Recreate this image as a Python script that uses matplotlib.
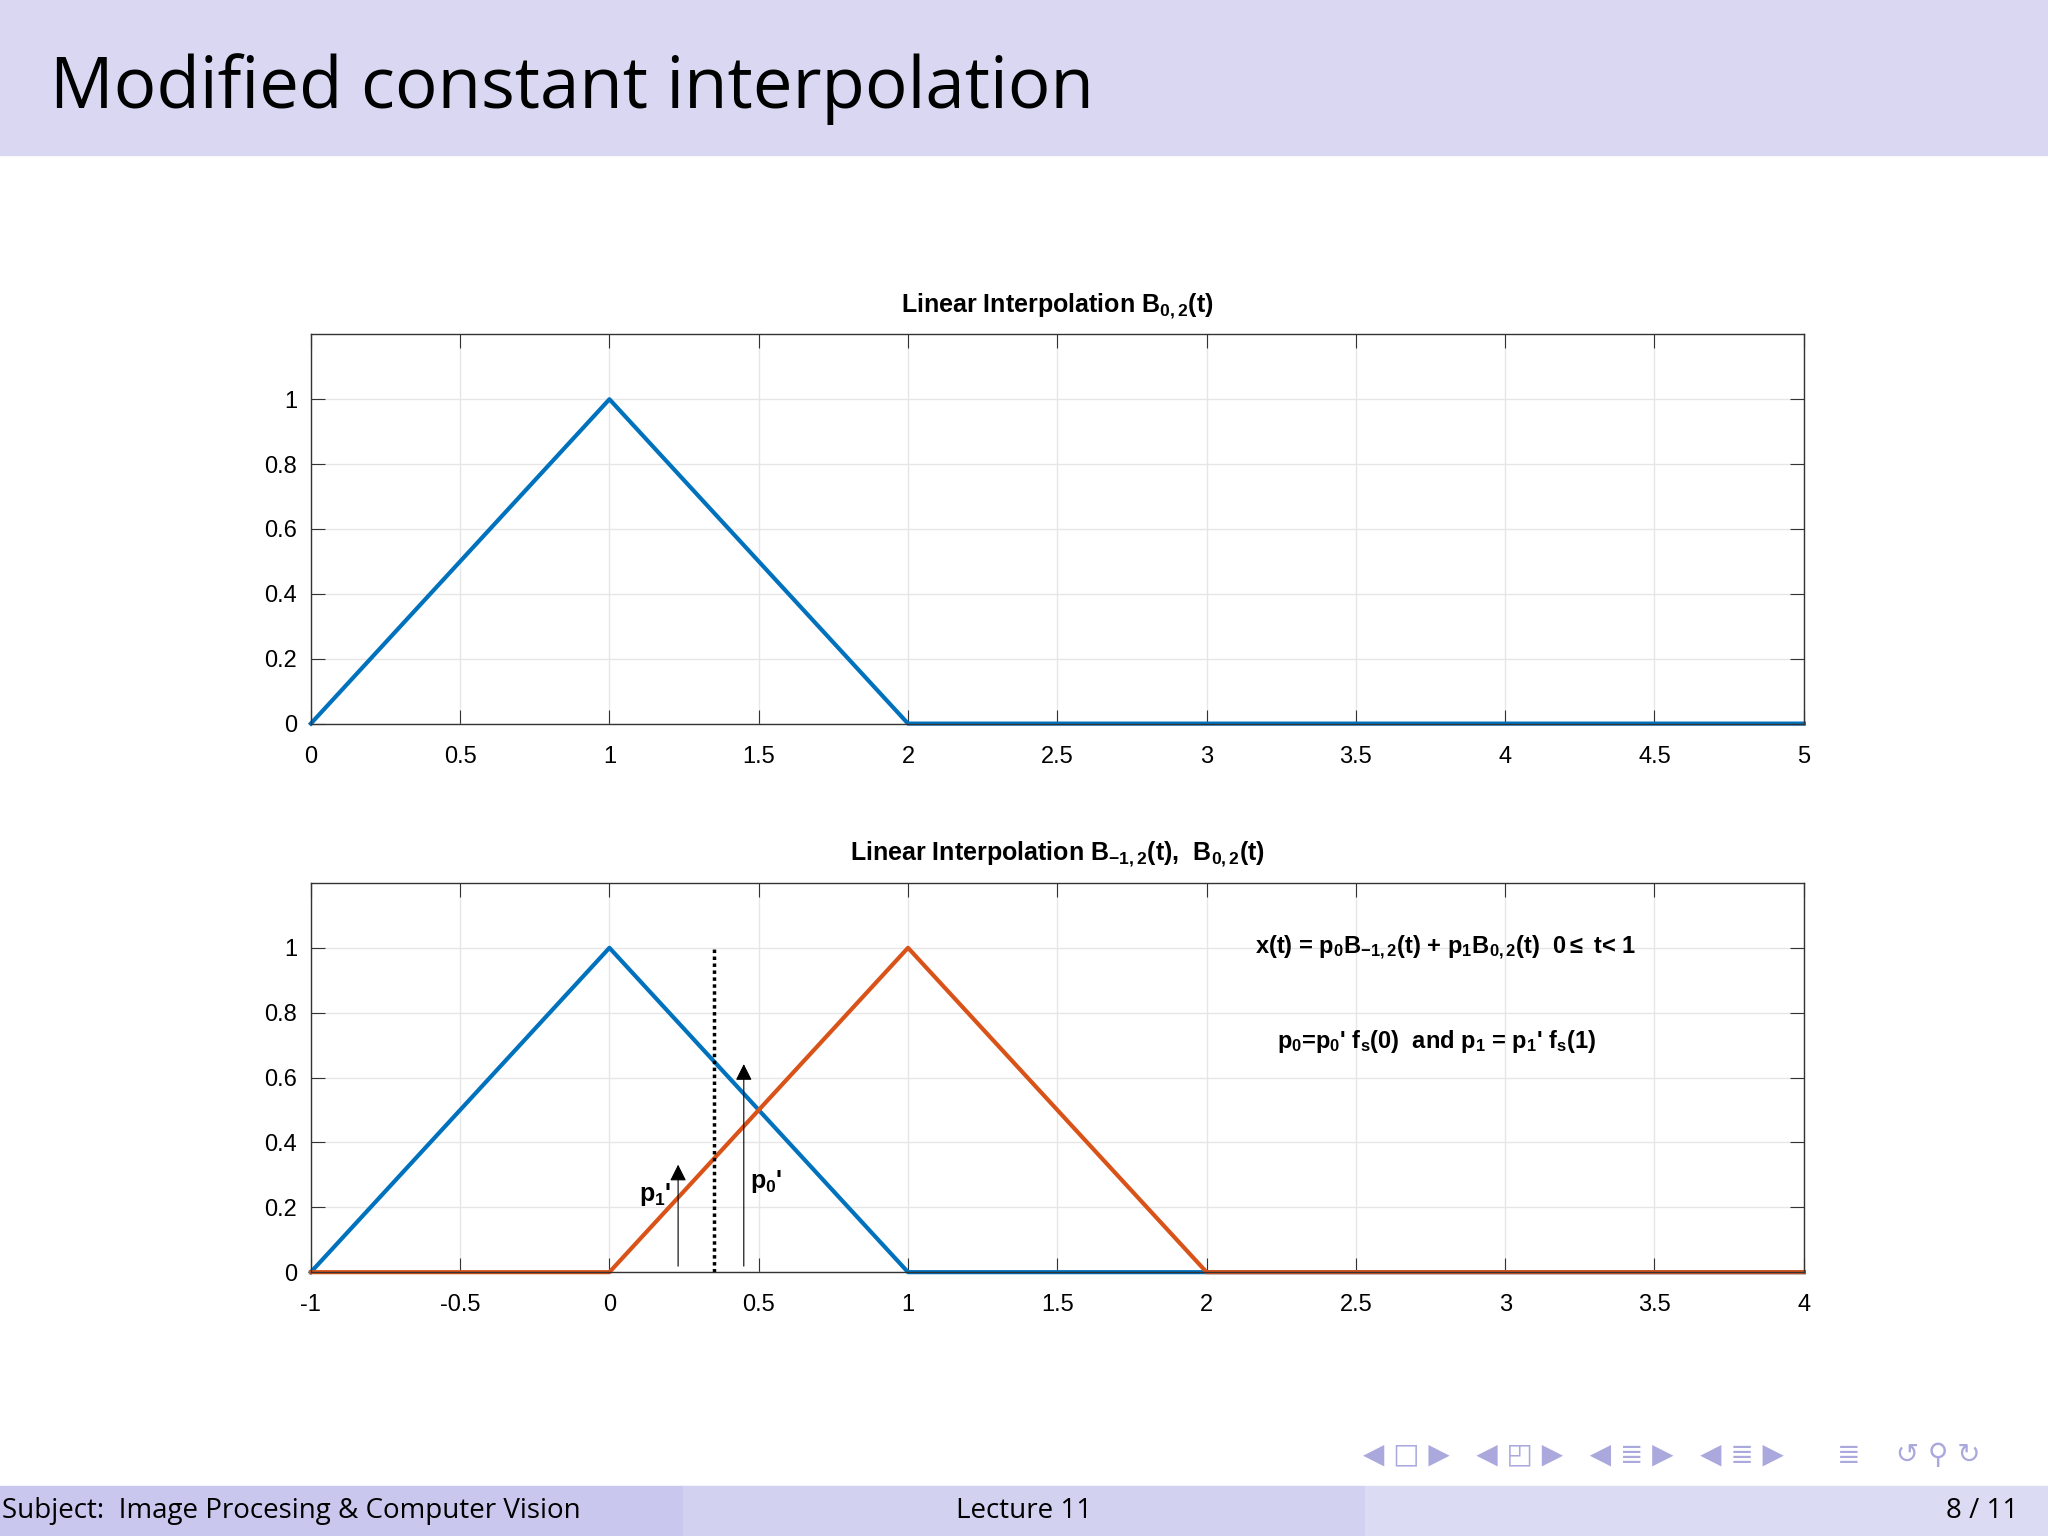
import matplotlib
matplotlib.use("Agg")
import matplotlib.pyplot as plt
import numpy as np
from matplotlib.patches import Rectangle

top_x = [0, 1, 2, 5]
top_y = [0, 1, 0, 0]
blue_x = [-1, 0, 1, 4]
blue_y = [0, 1, 0, 0]
orange_x = [-1, 0, 1, 2, 4]
orange_y = [0, 0, 1, 0, 0]
top_ticks = [0, 0.5, 1, 1.5, 2, 2.5, 3, 3.5, 4, 4.5, 5]
top_ticklabels = ["0", "0.5", "1", "1.5", "2", "2.5", "3", "3.5", "4", "4.5", "5"]
bot_ticks = [-1, -0.5, 0, 0.5, 1, 1.5, 2, 2.5, 3, 3.5, 4]
bot_ticklabels = ["-1", "-0.5", "0", "0.5", "1", "1.5", "2", "2.5", "3", "3.5", "4"]
y_ticks = [0, 0.2, 0.4, 0.6, 0.8, 1]
y_ticklabels = ["0", "0.2", "0.4", "0.6", "0.8", "1"]
dotted_x = 0.35
arrow_p1 = (0.23, 0.34)
arrow_p0 = (0.45, 0.65)

BLUE = "#0072BD"
ORANGE = "#D95319"
FONT = ["Liberation Sans", "DejaVu Sans"]
plt.rcParams["mathtext.fontset"] = "custom"
plt.rcParams["mathtext.rm"] = "Liberation Sans:bold"
plt.rcParams["mathtext.it"] = "Liberation Sans:bold"
plt.rcParams["mathtext.bf"] = "Liberation Sans:bold"
plt.rcParams["mathtext.default"] = "rm"

fig = plt.figure(figsize=(20.48, 15.36), dpi=100)
fig.patches.append(Rectangle((0, 1 - 119/1176), 1, 119/1176, transform=fig.transFigure,
                             color="#d9d7f1", zorder=0))
fig.text(38/1568, 1 - 68/1176, "Modified constant interpolation", fontsize=51,
         va="center", ha="left", family=["Open Sans", "DejaVu Sans"])
fh = 38/1176
fig.patches.append(Rectangle((0, 0), 523/1568, fh, transform=fig.transFigure, color="#c9c7ee"))
fig.patches.append(Rectangle((523/1568, 0), 522/1568, fh, transform=fig.transFigure, color="#d3d1f0"))
fig.patches.append(Rectangle((1045/1568, 0), 523/1568, fh, transform=fig.transFigure, color="#dcdbf4"))
ff = ["Open Sans", "DejaVu Sans"]
fig.text(0.001, fh/2, "Subject:  Image Procesing & Computer Vision", fontsize=20, va="center", family=ff)
fig.text(784/1568, fh/2, "Lecture 11", fontsize=20, va="center", ha="center", family=ff)
fig.text(1545/1568, fh/2, "8 / 11", fontsize=20, va="center", ha="right", family=ff)
fig.text(1280/1568, 1 - 1114/1176, "◀ □ ▶   ◀ ◰ ▶   ◀ ≣ ▶   ◀ ≣ ▶      ≣    ↺ ⚲ ↻", fontsize=20,
         color="#aaa8dd", ha="center", va="center", family=["DejaVu Sans"])

def style(ax, ticks, labels, xlim):
    ax.set_xlim(*xlim)
    ax.set_ylim(0, 1.2)
    ax.set_xticks(ticks)
    ax.set_xticklabels(labels, family=FONT, fontsize=17)
    ax.set_yticks(y_ticks)
    ax.set_yticklabels(y_ticklabels, family=FONT, fontsize=17)
    ax.grid(True, color="#e6e6e6", lw=1)
    ax.tick_params(direction="in", length=10, top=True, right=True, color="#333333", pad=10)
    ax.tick_params(axis="x", pad=16)
    for s in ax.spines.values():
        s.set_color("#333333"); s.set_linewidth(1)
    ax.set_axisbelow(True)

ax1 = fig.add_axes([238/1568, 1 - 554/1176, 1143/1568, 298/1176])
ax1.plot(top_x, top_y, color=BLUE, lw=3, clip_on=False)
style(ax1, top_ticks, top_ticklabels, (0, 5))
ax1.set_title("Linear Interpolation B$_{0,2}$(t)", fontsize=18, fontweight="bold", family=FONT, pad=16)

ax2 = fig.add_axes([238/1568, 1 - 974/1176, 1143/1568, 298/1176])
ax2.plot(blue_x, blue_y, color=BLUE, lw=3, clip_on=False)
ax2.plot(orange_x, orange_y, color=ORANGE, lw=3, clip_on=False)
style(ax2, bot_ticks, bot_ticklabels, (-1, 4))
ax2.set_title("Linear Interpolation B$_{-1,2}$(t),  B$_{0,2}$(t)", fontsize=18, fontweight="bold",
              family=FONT, pad=16)
ax2.plot([dotted_x, dotted_x], [0, 1], color="black", lw=2.5, ls=(0, (1, 1)))
for (x, y) in (arrow_p1, arrow_p0):
    ax2.annotate("", xy=(x, y), xytext=(x, 0.01),
                 arrowprops=dict(arrowstyle="-|>", lw=0.8, color="black", mutation_scale=25))
ax2.text(0.1, 0.22, "p$_1$'", fontsize=18, fontweight="bold", family=FONT, ha="left")
ax2.text(0.47, 0.26, "p$_0$'", fontsize=18, fontweight="bold", family=FONT, ha="left")
ax2.text(2.8, 1.0, "x(t) = p$_0$B$_{-1,2}$(t) + p$_1$B$_{0,2}$(t)  0$\\leq$ t< 1", fontsize=17,
         fontweight="bold", family=FONT, ha="center", va="center")
ax2.text(2.77, 0.71, "p$_0$=p$_0$' f$_s$(0)  and p$_1$ = p$_1$' f$_s$(1)", fontsize=17,
         fontweight="bold", family=FONT, ha="center", va="center")

fig.savefig("out.png", dpi=100)
